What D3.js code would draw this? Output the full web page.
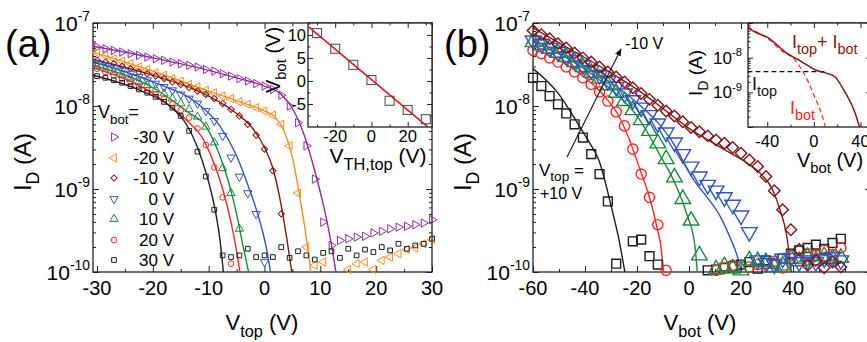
<!DOCTYPE html>
<html>
<head>
<meta charset="utf-8">
<script src="https://cdn.jsdelivr.net/npm/d3@7"></script>
<style>
  body { margin: 0; background: #fff; }
  svg { display: block; }
</style>
</head>
<body>
<script>
// ---------- data (currents stored as log10(I_D / A)) ----------

// panel (a): I_D vs V_top, one curve per V_bot
const vTopA = d3.range(-30, 30.01, 1.5);
const vBotNames = ["-30 V", "-20 V", "-10 V", "0 V", "10 V", "20 V", "30 V"];
const idA_m30 = [-7.29,-7.31,-7.33,-7.35,-7.37,-7.39,-7.41,-7.43,-7.45,-7.47,
  -7.49,-7.51,-7.53,-7.56,-7.58,-7.61,-7.64,-7.67,-7.70,-7.73,
  -7.76,-7.80,-7.87,-8.00,-8.20,-8.48,-8.88,-9.40,-9.68,-9.62,
  -9.60,-9.58,-9.57,-9.53,-9.51,-9.48,-9.46,-9.45,-9.43,-9.41,-9.37];
const idA_m20 = [-7.36,-7.39,-7.43,-7.46,-7.49,-7.53,-7.56,-7.60,-7.63,-7.67,
  -7.70,-7.74,-7.77,-7.81,-7.84,-7.88,-7.91,-7.95,-7.98,-8.02,
  -8.06,-8.11,-8.22,-8.48,-9.05,-9.70,-9.92,-9.88,null,null,
  -9.97,-9.90,-9.88,-9.97,-9.86,-9.82,-9.78,-9.73,-9.71,-9.66,-9.61];
const idA_m10 = [-7.45,-7.47,-7.49,-7.52,-7.55,-7.59,-7.61,-7.64,-7.67,-7.71,
  -7.74,-7.78,-7.82,-7.86,-7.91,-7.97,-8.04,-8.12,-8.22,-8.35,
  -8.52,-8.78,-9.30];
const idA_0 = [-7.48,-7.51,-7.54,-7.57,-7.61,-7.65,-7.69,-7.73,-7.77,-7.81,
  -7.86,-7.91,-7.97,-8.06,-8.18,-8.36,-8.62,-8.85,-9.05,-9.30,-9.88];
const idA_10 = [-7.52,-7.55,-7.59,-7.63,-7.67,-7.71,-7.75,-7.80,-7.85,-7.91,
  -7.97,-8.04,-8.13,-8.25,-8.44,-8.75,-9.05,-9.48];
const idA_20 = [-7.55,-7.59,-7.63,-7.67,-7.71,-7.76,-7.81,-7.86,-7.92,-7.98,
  -8.05,-8.14,-8.27,-8.47,-8.74,-9.10,-9.90];
const idA_30 = [-7.64,-7.66,-7.69,-7.72,-7.76,-7.80,-7.84,-7.89,-7.95,-8.02,
  -8.12,-8.30,-8.55,-8.85,-9.25,-9.80,-9.82,-9.80,-9.72,-9.82,
  -9.80,-9.82,-9.70,-9.83,-9.75,-9.80,-9.85,-9.77,-9.75,-9.83,
  -9.72,-9.80,-9.73,-9.76,-9.70,-9.74,-9.66,-9.72,-9.68,-9.66,-9.60];

// model fits for panel (a): [V_top, log10 I_D]
const fitA_m30 = [[-30.7,-7.28],[-20,-7.42],[-10,-7.57],[-4,-7.68],[0,-7.76],[3,-7.86],[5,-8.03],[7,-8.33],[9,-8.78],[10.5,-9.18],[11.8,-9.6],[12.9,-10.05]];
const fitA_m20 = [[-30.7,-7.35],[-20,-7.58],[-10,-7.82],[-4,-7.96],[0,-8.06],[2,-8.14],[3.5,-8.3],[5,-8.62],[6.2,-9.05],[7.3,-9.5],[8.4,-10.05]];
const fitA_m10 = [[-30.7,-7.44],[-20,-7.63],[-10,-7.88],[-5,-8.09],[-2,-8.28],[0,-8.5],[1.5,-8.75],[3,-9.2],[4,-9.6],[5,-10.05]];
const fitA_0   = [[-30.7,-7.47],[-20,-7.71],[-12,-7.97],[-8,-8.24],[-5,-8.6],[-3,-8.95],[-1,-9.35],[0.3,-9.7],[1.2,-10.05]];
const fitA_10  = [[-30.7,-7.51],[-20,-7.78],[-14,-8.06],[-10,-8.3],[-8,-8.6],[-6.5,-8.9],[-5,-9.3],[-3.8,-9.7],[-2.7,-10.05]];
const fitA_20  = [[-30.7,-7.54],[-20,-7.85],[-14,-8.17],[-11,-8.4],[-9,-8.7],[-7.5,-9.0],[-6,-9.4],[-5,-9.75],[-4.3,-10.05]];
const fitA_30  = [[-30.7,-7.63],[-22,-7.82],[-17,-8.0],[-14,-8.22],[-12,-8.5],[-10.5,-8.8],[-9,-9.2],[-8,-9.6],[-7.3,-10.05]];

// inset (a): threshold top-gate voltage vs V_bot
const vthTop = [-30, -20, -10, 0, 10, 20, 30];
const vBotTh = [10.4, 7.0, 3.5, 0.2, -4.3, -6.3, -8.3];
const thFitX = [-34.8, 30.9];
const thFitY = [11.8, -9.93];

// panel (b): I_D vs V_bot, one curve per V_top (+10 V ... -10 V)
const vBotB = d3.range(-60, 60, 3.2);
const idB_p10 = [-7.66,-7.76,-7.88,-7.98,-8.09,-8.22,-8.38,-8.58,-8.82,-9.15,
  -9.90,null,-9.63,-9.61,-9.81,-9.91,null,null,null,null,
  null,-9.98,-9.97,-9.95,-9.93,-9.91,-9.88,-9.96,-9.86,-9.90,
  -9.84,-9.78,-9.74,-9.71,-9.67,-9.72,-9.65,-9.60];
const idB_p5 = [-7.33,-7.37,-7.42,-7.47,-7.53,-7.59,-7.66,-7.74,-7.83,-7.94,
  -8.07,-8.24,-8.52,-8.82,-9.10,-9.43,-9.98,null,null,null,
  null,null,-9.98,-9.95,-9.92,null,-9.94,-9.91,-9.90,-9.87,
  -9.95,-9.80,-9.84,-9.78,-9.80,-9.74,-9.79,-9.71];
const idB_0 = [-7.23,-7.27,-7.31,-7.36,-7.41,-7.47,-7.53,-7.60,-7.67,-7.75,
  -7.84,-7.94,-8.05,-8.17,-8.30,-8.45,-8.64,-8.86,-9.12,-9.38,
  -9.80,null,-9.97,-9.93,-9.96,-9.98,-9.86,-9.87,-9.88,-9.94,
  -9.92,-9.84,-9.87,-9.82,-9.86,-9.81,-9.84,-9.83];
const idB_m5 = [-7.21,-7.25,-7.30,-7.35,-7.40,-7.45,-7.51,-7.57,-7.63,-7.70,
  -7.77,-7.85,-7.93,-8.02,-8.11,-8.21,-8.32,-8.44,-8.58,-8.73,
  -8.85,-8.95,-9.02,-9.10,-9.19,-9.32,-9.52,-9.86,-9.89,-9.91,
  -9.84,-9.83,-9.88,-9.86,-9.88,-9.84,-9.82,-9.86];
const idB_m10 = [-7.09,-7.14,-7.19,-7.25,-7.30,-7.36,-7.42,-7.47,-7.53,-7.59,
  -7.65,-7.71,-7.78,-7.85,-7.92,-7.99,-8.06,-8.12,-8.19,-8.26,
  -8.31,-8.36,-8.41,-8.45,-8.50,-8.57,-8.65,-8.73,-8.85,-9.02,
  -9.25,-9.49,-9.73,-9.92,-9.86,-9.95,-9.88,-9.94];

const fitB_p10 = [[-60,-7.55],[-50,-7.86],[-43,-8.2],[-38.5,-8.43],[-34.7,-8.65],[-29.6,-9.25],[-27,-9.6],[-24.4,-10.05]];
const fitB_p5  = [[-60,-7.31],[-50,-7.45],[-40,-7.66],[-32,-7.9],[-27,-8.12],[-23,-8.4],[-19,-8.75],[-15.5,-9.07],[-12.4,-9.45],[-10.5,-9.77],[-9.7,-10.05]];
const fitB_0   = [[-60,-7.23],[-45,-7.46],[-30,-7.8],[-20,-8.12],[-11,-8.6],[-6,-8.89],[-1,-9.29],[2.3,-9.69],[3.3,-10.05]];
const fitB_m5  = [[-60,-7.2],[-45,-7.43],[-30,-7.72],[-20,-7.96],[-12,-8.2],[-6,-8.45],[-2,-8.68],[2,-8.9],[7,-9.1],[12,-9.33],[16,-9.6],[18.5,-9.8],[20.5,-10.05]];
const fitB_m10 = [[-60,-7.06],[-45,-7.33],[-30,-7.6],[-20,-7.8],[-10,-8.03],[0,-8.27],[8,-8.42],[15,-8.55],[22,-8.68],[28,-8.83],[32,-9.0],[35,-9.25],[37.5,-9.55],[39.5,-10.05]];

// inset (b): model decomposition [V_bot, log10 I]
const modelTotal = [[-57,-7.12],[-50,-7.27],[-39.3,-7.42],[-24.8,-7.83],[-10.3,-8.12],[0.9,-8.35],[12,-8.46],[18,-8.55],[26.5,-8.98],[35,-9.56],[39.3,-10.02]];
const modelBot = [[-57,-7.12],[-39.3,-7.46],[-24.8,-7.87],[-18,-8.0],[-10.3,-8.35],[-5,-8.69],[0.9,-9.15],[6.8,-9.64],[10,-10.02]];
const modelTop = [[-57,-8.4],[10,-8.4]];

// ---------- styles ----------
const FONT = "'Liberation Sans', Arial, Helvetica, sans-serif";
const C = { purple: "#8e2d9f", orange: "#ff8a1f", darkred: "#861313", blue: "#3152c6",
            green: "#1b8a3c", red: "#ff2424", black: "#1c1c1c" };

const seriesA = [
  { vals: idA_m30, fit: fitA_m30, color: C.purple,  shape: "right" },
  { vals: idA_m20, fit: fitA_m20, color: C.orange,  shape: "left" },
  { vals: idA_m10, fit: fitA_m10, color: C.darkred, shape: "diamond" },
  { vals: idA_0,   fit: fitA_0,   color: C.blue,    shape: "down" },
  { vals: idA_10,  fit: fitA_10,  color: C.green,   shape: "up" },
  { vals: idA_20,  fit: fitA_20,  color: C.red,     shape: "circle" },
  { vals: idA_30,  fit: fitA_30,  color: C.black,   shape: "square" },
];
const seriesB = [
  { vals: idB_p10, fit: fitB_p10, color: C.black,   shape: "square" },
  { vals: idB_p5,  fit: fitB_p5,  color: C.red,     shape: "circle" },
  { vals: idB_0,   fit: fitB_0,   color: C.green,   shape: "up" },
  { vals: idB_m5,  fit: fitB_m5,  color: C.blue,    shape: "down" },
  { vals: idB_m10, fit: fitB_m10, color: C.darkred, shape: "diamond" },
];

const shapes = {
  square: [d3.symbolSquare, 0], circle: [d3.symbolCircle, 0], diamond: [d3.symbolSquare, 45],
  up: [d3.symbolTriangle, 0], down: [d3.symbolTriangle, 180],
  right: [d3.symbolTriangle, 90], left: [d3.symbolTriangle, -90],
};
const sizeSmall = { square: 22, circle: 26, diamond: 20, up: 30, down: 30, right: 30, left: 30 };
const sizeBig = { square: 78, circle: 82, diamond: 66, up: 105, down: 105, right: 105, left: 105 };

// ---------- scales ----------
const logDomain = [1e-10, 1e-7];
const xA = d3.scaleLinear().domain([-30.72, 30]).range([93, 432]);
const yA = d3.scaleLog().domain(logDomain).range([272, 23]);
const xB = d3.scaleLinear().domain([-60, 70]).range([533, 871]);
const yB = d3.scaleLog().domain(logDomain).range([272, 23]);
const xIa = d3.scaleLinear().domain([-35, 33.4]).range([308, 432]);
const yIa = d3.scaleLinear().domain([-10, 12.6]).range([127, 23]);
const xIb = d3.scaleLinear().domain([-56.5, 49]).range([748, 871]);
const yIb = d3.scaleLog().domain(logDomain).range([127, 23]);

const logMajor = [1e-10, 1e-9, 1e-8, 1e-7];
const logMinor = [];
[-10, -9, -8].forEach(e => { for (let m = 2; m <= 9; m++) logMinor.push(m * Math.pow(10, e)); });

// ---------- helpers ----------
const svg = d3.select("body").append("svg")
  .attr("width", 867).attr("height", 342)
  .style("font-family", FONT);
const defs = svg.append("defs");

function rich(parent, x, y, parts, size, opts = {}) {
  const t = parent.append("text")
    .attr("x", x).attr("y", y)
    .attr("text-anchor", opts.anchor || "start")
    .attr("fill", opts.color || "#000")
    .style("font-size", size + "px");
  const subR = opts.sub || 0.74;
  let shift = 0;
  parts.forEach(p => {
    const [str, kind] = Array.isArray(p) ? p : [p, null];
    let target = 0, fs = size;
    if (kind === "sub") { target = size * 0.32; fs = size * subR; }
    if (kind === "sup") { target = -size * 0.45; fs = size * 0.66; }
    t.append("tspan").attr("dy", target - shift).style("font-size", fs + "px").text(str);
    shift = target;
  });
  return t;
}

function rotTitle(parent, x, y, parts, size) {
  const g = parent.append("g").attr("transform", `translate(${x},${y}) rotate(-90)`);
  rich(g, 0, 0, parts, size, { anchor: "middle" });
}

function frame(g, x, y, o) {
  const [xl, xr] = x.range(), [yb, yt] = y.range();
  if (o.fill) g.append("rect").attr("x", xl).attr("y", yt)
    .attr("width", xr - xl).attr("height", yb - yt).attr("fill", "#fff");
  const sides = [
    [d3.axisBottom(x), `translate(0,${yb})`, o.xMajor, o.xMinor],
    [d3.axisTop(x), `translate(0,${yt})`, o.xMajor, o.xMinor],
    [d3.axisLeft(y), `translate(${xl},0)`, o.yMajor, o.yMinor],
    [d3.axisRight(y), `translate(${xr},0)`, o.yMajor, o.yMinor],
  ];
  sides.forEach(([ax, tr, major, minor]) => {
    [[major, o.tick || 6], [minor, (o.tick || 6) / 2]].forEach(([vals, len]) => {
      const a = g.append("g").attr("transform", tr)
        .call(ax.tickValues(vals).tickSizeInner(-len).tickSizeOuter(0).tickFormat(""));
      a.select(".domain").remove();
      a.selectAll("line").attr("stroke", "#222").attr("stroke-width", 1);
    });
  });
  g.append("rect").attr("x", xl).attr("y", yt)
    .attr("width", xr - xl).attr("height", yb - yt)
    .attr("fill", "none").attr("stroke", "#222").attr("stroke-width", 1.3);
}

function xLabels(g, x, vals, yBase, size) {
  vals.forEach(v => g.append("text").attr("x", x(v)).attr("y", yBase)
    .attr("text-anchor", "middle").style("font-size", size + "px").attr("fill", "#000").text(String(v)));
}

function logLabels(g, y, vals, xRight, size) {
  vals.forEach(v => rich(g, xRight, y(v) + size * 0.36,
    ["10", [String(Math.round(Math.log10(v))), "sup"]], size, { anchor: "end" }));
}

function clip(id, x, y) {
  const [xl, xr] = x.range(), [yb, yt] = y.range();
  defs.append("clipPath").attr("id", id).append("rect")
    .attr("x", xl).attr("y", yt).attr("width", xr - xl).attr("height", yb - yt);
  return `url(#${id})`;
}

function marker(g, cx, cy, shape, size, color, sw) {
  const [type, rot] = shapes[shape];
  g.append("path")
    .attr("d", d3.symbol().type(type).size(size[shape])())
    .attr("transform", `translate(${cx},${cy}) rotate(${rot})`)
    .attr("fill", "none").attr("stroke", color).attr("stroke-width", sw);
}

function logLine(x, y) {
  return d3.line().x(d => x(d[0])).y(d => y(Math.pow(10, d[1]))).curve(d3.curveMonotoneX);
}

// ---------- panel (a) ----------
const gA = svg.append("g");
frame(gA, xA, yA, { xMajor: d3.range(-30, 31, 10), xMinor: d3.range(-25, 31, 10),
                    yMajor: logMajor, yMinor: logMinor });
const clipA = clip("clipA", xA, yA);
const lineA = logLine(xA, yA);
seriesA.forEach(s => {
  gA.append("path").datum(s.fit).attr("d", lineA).attr("clip-path", clipA)
    .attr("fill", "none").attr("stroke", s.color).attr("stroke-width", 1.4);
});
seriesA.forEach(s => {
  s.vals.forEach((v, i) => {
    if (v == null) return;
    marker(gA, xA(vTopA[i]), yA(Math.pow(10, v)), s.shape, sizeSmall, s.color, 1);
  });
});
xLabels(gA, xA, d3.range(-30, 31, 10), 295, 20);
logLabels(gA, yA, logMajor, 90, 21);
rich(gA, 262, 330, ["V", ["top", "sub"], [" (V)", null]], 22, { anchor: "middle" });
rotTitle(gA, 31, 162, ["I", ["D", "sub"], [" (A)", null]], 24);
rich(gA, 5, 57, ["(a)"], 38);

// legend
rich(gA, 98, 118, ["V", ["bot", "sub"], ["=", null]], 18);
const legY = [137, 158, 178, 199, 219, 240, 260];
seriesA.forEach((s, i) => {
  marker(gA, 114, legY[i], s.shape, sizeSmall, s.color, 1);
  gA.append("text").attr("x", 174).attr("y", legY[i] + 6).attr("text-anchor", "end")
    .style("font-size", "17px").attr("fill", "#000").text(vBotNames[i]);
});

// inset (a)
const gIa = svg.append("g");
frame(gIa, xIa, yIa, { fill: true, xMajor: [-20, 0, 20], xMinor: [-30, -10, 10, 30],
                       yMajor: [-5, 0, 5, 10], yMinor: [-7.5, -2.5, 2.5, 7.5, 12.5], tick: 5 });
gIa.append("line")
  .attr("x1", xIa(thFitX[0])).attr("y1", yIa(thFitY[0]))
  .attr("x2", xIa(thFitX[1])).attr("y2", yIa(thFitY[1]))
  .attr("stroke", "#e8141c").attr("stroke-width", 1.6);
vthTop.forEach((v, i) => {
  gIa.append("rect").attr("x", xIa(v) - 4.5).attr("y", yIa(vBotTh[i]) - 4.5)
    .attr("width", 9).attr("height", 9)
    .attr("fill", "none").attr("stroke", "#555").attr("stroke-width", 1.1);
});
xLabels(gIa, xIa, [-20, 0, 20], 142, 16.5);
[-5, 0, 5, 10].forEach(v => gIa.append("text").attr("x", 306).attr("y", yIa(v) + 6)
  .attr("text-anchor", "end").style("font-size", "16.5px").attr("fill", "#000").text(String(v)));
rich(gIa, 378, 163, ["V", ["TH,top", "sub"], [" (V)", null]], 21, { anchor: "middle", sub: 0.78 });
rotTitle(gIa, 280, 60, ["V", ["bot", "sub"], [" (V)", null]], 20);

// ---------- panel (b) ----------
const gB = svg.append("g");
frame(gB, xB, yB, { xMajor: d3.range(-60, 61, 20), xMinor: d3.range(-50, 71, 20),
                    yMajor: logMajor, yMinor: logMinor });
const clipB = clip("clipB", xB, yB);
const lineB = logLine(xB, yB);
seriesB.forEach(s => {
  gB.append("path").datum(s.fit).attr("d", lineB).attr("clip-path", clipB)
    .attr("fill", "none").attr("stroke", s.color).attr("stroke-width", 1.4);
});
seriesB.forEach(s => {
  s.vals.forEach((v, i) => {
    if (v == null) return;
    marker(gB, xB(vBotB[i]), yB(Math.pow(10, v)), s.shape, sizeBig, s.color, 1.4);
  });
});
xLabels(gB, xB, d3.range(-60, 61, 20), 295, 20);
logLabels(gB, yB, logMajor, 530, 21);
rich(gB, 700, 330, ["V", ["bot", "sub"], [" (V)", null]], 22, { anchor: "middle" });
rotTitle(gB, 471, 162, ["I", ["D", "sub"], [" (A)", null]], 24);
rich(gB, 444, 57, ["(b)"], 38);

// arrow + annotations
defs.append("marker").attr("id", "arrowHead")
  .attr("viewBox", "0 0 10 10").attr("refX", 9).attr("refY", 5)
  .attr("markerWidth", 7).attr("markerHeight", 7).attr("orient", "auto")
  .append("path").attr("d", "M0,1 L10,5 L0,9 Z").attr("fill", "#111");
gB.append("line").attr("x1", 567).attr("y1", 157).attr("x2", 621).attr("y2", 49)
  .attr("stroke", "#111").attr("stroke-width", 1.1).attr("marker-end", "url(#arrowHead)");
rich(gB, 625, 49, ["-10 V"], 16);
rich(gB, 539, 176, ["V", ["top", "sub"], [" =", null]], 17, { sub: 0.8 });
rich(gB, 540, 199, ["+10 V"], 16);

// inset (b)
const gIb = svg.append("g");
frame(gIb, xIb, yIb, { fill: true, xMajor: [-40, 0, 40], xMinor: [-20, 20],
                       yMajor: logMajor, yMinor: logMinor, tick: 5 });
const clipIb = clip("clipIb", xIb, yIb);
const lineIb = logLine(xIb, yIb);
gIb.append("path").datum(modelTop).attr("d", lineIb).attr("clip-path", clipIb)
  .attr("fill", "none").attr("stroke", "#111").attr("stroke-width", 1.2).attr("stroke-dasharray", "5,3");
gIb.append("path").datum(modelBot).attr("d", lineIb).attr("clip-path", clipIb)
  .attr("fill", "none").attr("stroke", "#ff3030").attr("stroke-width", 1.3).attr("stroke-dasharray", "5,3");
gIb.append("path").datum(modelTotal).attr("d", lineIb).attr("clip-path", clipIb)
  .attr("fill", "none").attr("stroke", C.darkred).attr("stroke-width", 1.5);
xLabels(gIb, xIb, [-40, 0, 40], 147, 16.5);
logLabels(gIb, yIb, [1e-9, 1e-8], 742, 17);
rich(gIb, 830, 167, ["V", ["bot", "sub"], [" (V)", null]], 20, { anchor: "middle" });
rotTitle(gIb, 702, 73, ["I", ["D", "sub"], [" (A)", null]], 19);
rich(gIb, 792, 48, ["I", ["top", "sub"], ["+ I", null], ["bot", "sub"]], 18, { color: C.darkred, sub: 0.8 });
rich(gIb, 752, 90, ["I", ["top", "sub"]], 18, { color: "#111", sub: 0.8 });
rich(gIb, 790, 114, ["I", ["bot", "sub"]], 18, { color: "#ff2424", sub: 0.8 });
</script>
</body>
</html>
